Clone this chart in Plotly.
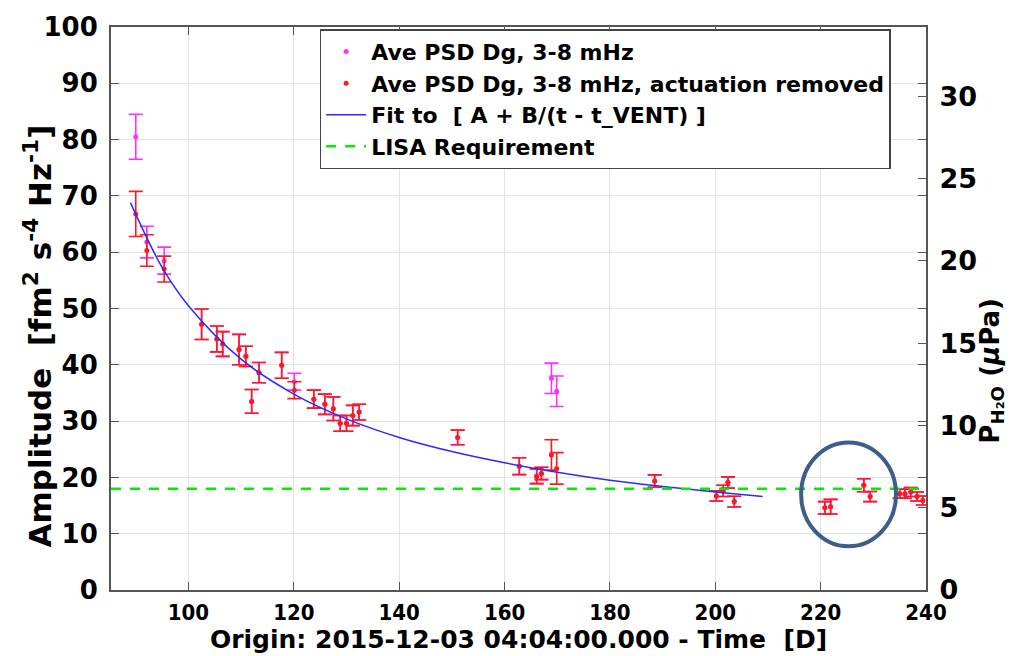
import plotly.graph_objects as go

# Measurement epochs (days since origin)
t_days = [90.0, 92.1, 95.4, 102.5, 105.4, 106.5, 109.6, 110.9, 112.0, 113.4,
          117.7, 120.1, 123.8, 125.9, 127.5, 128.8, 130.0, 131.2, 132.4, 151.1,
          162.8, 166.1, 167.0, 168.9, 169.9, 188.5, 200.2, 201.5, 202.4, 203.6,
          220.8, 221.9, 228.2, 229.4, 235.0, 236.0, 237.1, 238.3, 239.4]

# Average PSD, 3-8 mHz (all data)
psd_all = [80.5, 61.8, 58.5, 47.2, 44.6, 43.7, 42.7, 41.5, 33.5, 38.6,
           39.9, 37.0, 33.9, 33.0, 32.2, 29.6, 29.6, 31.0, 31.6, 27.1,
           22.0, 20.2, 20.7, 37.6, 35.3, 19.35, 16.7, 17.6, 19.1, 15.7,
           14.6, 14.8, 18.6, 16.6, 17.1, 17.1, 17.4, 16.6, 15.9]
err_all = [4.0, 2.8, 2.4, 2.7, 2.3, 2.2, 2.7, 1.8, 2.1, 1.8,
           2.3, 1.5, 1.6, 1.8, 2.1, 1.4, 1.4, 1.8, 1.4, 1.3,
           1.5, 1.3, 1.1, 2.7, 2.7, 1.1, 0.9, 1.0, 1.0, 0.95,
           1.1, 1.3, 1.15, 0.9, 0.8, 0.8, 0.8, 0.8, 0.8]

# Average PSD, 3-8 mHz, with actuation removed
psd_noact = [66.8, 60.3, 57.0, 47.2, 44.6, 43.7, 42.7, 41.5, 33.5, 38.6,
             39.9, 35.5, 33.9, 33.0, 32.2, 29.6, 29.6, 31.0, 31.6, 27.1,
             22.0, 20.2, 20.7, 24.0, 21.6, 19.35, 16.7, 17.6, 19.1, 15.7,
             14.6, 14.8, 18.6, 16.6, 17.1, 17.1, 17.4, 16.6, 15.9]
err_noact = [4.0, 2.8, 2.3, 2.7, 2.3, 2.2, 2.7, 1.8, 2.1, 1.8,
             2.3, 1.5, 1.6, 1.8, 2.1, 1.4, 1.4, 1.8, 1.4, 1.3,
             1.5, 1.3, 1.1, 2.7, 2.8, 1.1, 0.9, 1.0, 1.0, 0.95,
             1.1, 1.3, 1.15, 0.9, 0.8, 0.8, 0.8, 0.8, 0.8]

# Fitted decay curve A + B/(t - t_VENT), sampled
fit_t = [89, 95, 100, 110, 120, 130, 140, 150, 160, 170, 180, 190, 200, 209]
fit_amp = [68.8, 57.3, 50.5, 41.0, 34.8, 30.4, 27.1, 24.6, 22.6, 20.9,
           19.5, 18.4, 17.4, 16.6]

# LISA requirement level
lisa_t = [85.3, 240]
lisa_amp = [18, 18]

# Axis settings
x_range = [85.3, 240]
x_ticks = [100, 120, 140, 160, 180, 200, 220, 240]
y_range = [0, 100]
y_ticks = [0, 10, 20, 30, 40, 50, 60, 70, 80, 90, 100]
p_range = [0, 34.2]
p_ticks = [0, 5, 10, 15, 20, 25, 30]

# Highlighted region (ellipse bounds)
hl_t = [216.3, 234.3]
hl_amp = [7.75, 26.2]

MAGENTA = "#ff30ff"
RED = "#ff1a1a"
NB = "\u00a0"
BOLD = "DejaVu Sans"
COND = "DejaVu Sans Condensed, DejaVu Sans"

fig = go.Figure()

fig.add_trace(go.Scatter(
    x=t_days, y=psd_all, mode="markers", name="Ave PSD Dg, 3-8 mHz",
    marker=dict(color=MAGENTA, size=5),
    error_y=dict(type="data", array=err_all, color=MAGENTA, thickness=1.6, width=7),
))
fig.add_trace(go.Scatter(
    x=t_days, y=psd_noact, mode="markers",
    name="Ave PSD Dg, 3-8 mHz, actuation removed",
    marker=dict(color=RED, size=5),
    error_y=dict(type="data", array=err_noact, color=RED, thickness=1.6, width=7),
))
fig.add_trace(go.Scatter(
    x=fit_t, y=fit_amp, mode="lines", line_shape="spline",
    name=f"Fit to{NB}{NB}[ A + B/(t - t_VENT) ]",
    line=dict(color="#2b2bff", width=1.5),
))
fig.add_trace(go.Scatter(
    x=lisa_t, y=lisa_amp, mode="lines", name="LISA Requirement",
    line=dict(color="#00ee00", width=2.5, dash="10px,9px"),
))
# keeps the pressure axis attached to the plot
fig.add_trace(go.Scatter(
    x=[None], y=[None], yaxis="y2", showlegend=False, hoverinfo="skip",
))

fig.add_shape(
    type="circle", xref="x", yref="y",
    x0=hl_t[0], x1=hl_t[1], y0=hl_amp[0], y1=hl_amp[1],
    line=dict(color="#3d5e8b", width=4),
)

# Axis titles placed as rotated annotations
fig.add_annotation(
    text=f"Amplitude{NB}{NB}[fm<sup>2</sup> s<sup>-4</sup> Hz<sup>-1</sup>]",
    xref="paper", yref="paper", x=-0.089, y=0.451, textangle=-90,
    showarrow=False, xanchor="center", yanchor="middle",
    font=dict(family=BOLD, size=31, weight="bold", color="black"),
)
fig.add_annotation(
    text="P<sub>H\u2082O</sub> (<i>\u03bc</i>Pa)",
    xref="paper", yref="paper", x=1.08, y=0.39, textangle=-90,
    showarrow=False, xanchor="center", yanchor="middle",
    font=dict(family=BOLD, size=26, weight="bold", color="black"),
)

axis_line = "#555555"
grid = "#e3e3e3"

fig.update_layout(
    width=1015, height=656,
    margin=dict(l=111, r=89, t=18, b=66),
    paper_bgcolor="white", plot_bgcolor="white",
    font=dict(family=BOLD, size=20, color="black", weight="bold"),
    showlegend=True,
    legend=dict(
        x=0.256, y=0.996, xanchor="left", yanchor="top",
        bgcolor="white", bordercolor="#444444", borderwidth=1.5,
        font=dict(family=BOLD, size=22, color="black", weight="bold"),
        tracegroupgap=0, itemwidth=40,
    ),
    xaxis=dict(
        range=x_range, tickvals=x_ticks, ticktext=[str(v) for v in x_ticks],
        ticks="inside", ticklen=8, tickwidth=1.2, tickcolor=axis_line,
        showline=True, linecolor=axis_line, linewidth=2, mirror="ticks",
        showgrid=True, gridcolor=grid, gridwidth=1, zeroline=False,
        tickfont=dict(family=COND, size=22, weight="bold"),
        ticklabelstandoff=2,
        title=dict(text=f"Origin: 2015-12-03 04:04:00.000 - Time{NB}{NB}[D]",
                   font=dict(family=BOLD, size=25, weight="bold"), standoff=0),
    ),
    yaxis=dict(
        range=y_range, tickvals=y_ticks, ticktext=[str(v) for v in y_ticks],
        ticks="inside", ticklen=8, tickwidth=1.2, tickcolor=axis_line,
        showline=True, linecolor=axis_line, linewidth=2, mirror="ticks",
        showgrid=True, gridcolor=grid, gridwidth=1, zeroline=False,
        tickfont=dict(family=BOLD, size=26, weight="bold"),
        ticklabelstandoff=6,
    ),
    yaxis2=dict(
        overlaying="y", side="right", anchor="x",
        range=p_range, tickvals=p_ticks, ticktext=[str(v) for v in p_ticks],
        ticks="inside", ticklen=8, tickwidth=1.2, tickcolor=axis_line,
        showline=True, linecolor=axis_line, linewidth=2,
        showgrid=False, zeroline=False,
        tickfont=dict(family=BOLD, size=27, weight="bold"),
        ticklabelstandoff=6,
    ),
)

fig.write_html("out.html")
